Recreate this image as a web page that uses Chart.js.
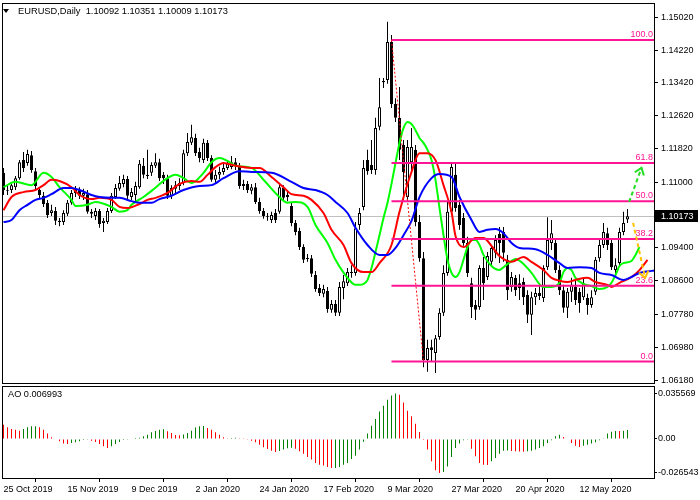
<!DOCTYPE html>
<html><head><meta charset="utf-8">
<script src="https://cdn.jsdelivr.net/npm/chart.js@4.4.1/dist/chart.umd.min.js"></script>
<style>
html,body{margin:0;padding:0;background:#fff;}
#wrap{position:relative;width:700px;height:500px;overflow:hidden;background:#fff;font-family:"Liberation Sans",Arial,sans-serif;}
#main{position:absolute;left:0;top:0;}
#ao{position:absolute;left:0;top:385px;}
#tri{position:absolute;left:3px;top:9px;width:0;height:0;border-left:3px solid transparent;border-right:3px solid transparent;border-top:4px solid #000;}
#hdr{position:absolute;left:18px;top:6px;font-size:9.3px;color:#000;white-space:pre;line-height:11px;}
#aolbl{position:absolute;left:8px;top:389px;font-size:9.2px;color:#000;white-space:pre;line-height:11px;}
</style></head><body>
<div id="wrap">
<canvas id="main" width="700" height="385"></canvas>
<canvas id="ao" width="700" height="115"></canvas>
<div id="tri"></div>
<div id="hdr"></div>
<div id="aolbl"></div>
</div>
<script>
const symbolTitle = 'EURUSD,Daily';
const dates = ['25 Oct 2019','15 Nov 2019','9 Dec 2019','2 Jan 2020','24 Jan 2020','17 Feb 2020','9 Mar 2020','27 Mar 2020','20 Apr 2020','12 May 2020'];
const dateBars = [0,16,32,48,64,80,96,112,128,144];
const priceTicks = [1.15020,1.14220,1.13420,1.12620,1.11820,1.11000,1.09400,1.08600,1.07780,1.06980,1.06180];
const aoTicks = [0.035569, 0, -0.026543];

const open = [1.1123,1.1081,1.1081,1.1088,1.1110,1.1154,1.1147,1.1166,1.1127,1.1081,
1.1067,1.1050,1.1025,1.1030,1.1006,1.1003,1.1023,1.1050,1.1074,1.1081,
1.1067,1.1071,1.1028,1.1018,1.1030,1.1001,1.1003,1.1030,1.1064,1.1084,
1.1096,1.1108,1.1064,1.1069,1.1088,1.1140,1.1115,1.1123,1.1140,1.1149,
1.1118,1.1110,1.1067,1.1084,1.1091,1.1098,1.1171,1.1196,1.1208,1.1174,
1.1154,1.1196,1.1159,1.1106,1.1118,1.1125,1.1135,1.1137,1.1149,1.1140,
1.1091,1.1096,1.1079,1.1088,1.1052,1.1030,1.1018,1.1008,1.1025,1.1028,
1.1086,1.1064,1.1042,1.1001,1.0981,1.0942,1.0913,1.0915,1.0874,1.0842,
1.0828,1.0835,1.0789,1.0803,1.0782,1.0842,1.0854,1.0879,1.0879,1.0996,
1.1040,1.1154,1.1142,1.1130,1.1235,1.1344,1.1349,1.1442,1.1291,1.1257,
1.1191,1.1064,1.1149,1.1179,1.1003,1.0915,1.0667,1.0698,1.0684,1.0723,
1.0782,1.0879,1.1028,1.1118,1.1045,1.1013,1.0952,1.0854,1.0801,1.0796,
1.0891,1.0869,1.0906,1.0928,1.0974,1.0979,1.0911,1.0845,1.0867,1.0854,
1.0857,1.0825,1.0777,1.0820,1.0830,1.0818,1.0893,1.0952,1.0952,1.0886,
1.0837,1.0794,1.0833,1.0845,1.0833,1.0820,1.0818,1.0801,1.0833,1.0915,
1.0947,1.0976,1.0952,1.0886,1.0903,1.0979,1.10092];
const high = [1.1135,1.1091,1.1096,1.1115,1.1154,1.1174,1.1179,1.1176,1.1135,1.1088,
1.1076,1.1057,1.1045,1.1040,1.1013,1.1032,1.1057,1.1081,1.1091,1.1088,
1.1084,1.1081,1.1035,1.1037,1.1035,1.1013,1.1037,1.1074,1.1096,1.1115,
1.1118,1.1115,1.1086,1.1101,1.1154,1.1159,1.1179,1.1149,1.1171,1.1157,
1.1125,1.1118,1.1093,1.1103,1.1110,1.1179,1.1220,1.1240,1.1218,1.1184,
1.1206,1.1203,1.1166,1.1130,1.1138,1.1149,1.1154,1.1164,1.1159,1.1147,
1.1106,1.1103,1.1096,1.1098,1.1062,1.1037,1.1025,1.1028,1.1035,1.1096,
1.1093,1.1081,1.1050,1.1008,1.0989,1.0949,1.0925,1.0923,1.0884,1.0852,
1.0850,1.0845,1.0813,1.0813,1.0857,1.0874,1.0891,1.0898,1.1003,1.1037,
1.1154,1.1179,1.1203,1.1257,1.1354,1.1354,1.1491,1.1459,1.1305,1.1332,
1.1203,1.1203,1.1232,1.1191,1.1020,1.0930,1.0716,1.0716,1.0728,1.0793,
1.0898,1.1052,1.1147,1.1147,1.1057,1.1025,1.0967,1.0867,1.0813,1.0898,
1.0918,1.0930,1.0947,1.0971,1.0991,1.0991,1.0923,1.0881,1.0874,1.0876,
1.0867,1.0837,1.0833,1.0842,1.0850,1.0898,1.1015,1.1008,1.0964,1.0898,
1.0850,1.0842,1.0867,1.0862,1.0842,1.0867,1.0828,1.0837,1.0918,1.0959,
1.1001,1.0989,1.0964,1.0915,1.0989,1.1028,1.10351];
const low = [1.1069,1.1069,1.1074,1.1081,1.1106,1.1125,1.1140,1.1123,1.1081,1.1059,
1.1040,1.1013,1.1018,1.0996,1.0993,1.0996,1.1018,1.1045,1.1064,1.1059,
1.1057,1.1023,1.1013,1.1008,1.0989,1.0979,1.0998,1.1025,1.1059,1.1079,
1.1088,1.1059,1.1057,1.1050,1.1084,1.1110,1.1108,1.1115,1.1135,1.1103,
1.1096,1.1059,1.1059,1.1074,1.1081,1.1093,1.1164,1.1191,1.1164,1.1149,
1.1147,1.1152,1.1101,1.1098,1.1108,1.1118,1.1130,1.1132,1.1130,1.1084,
1.1081,1.1074,1.1071,1.1047,1.1023,1.1011,1.1006,1.1001,1.1001,1.1023,
1.1054,1.1054,1.0993,1.0971,1.0935,1.0903,1.0906,1.0869,1.0833,1.0823,
1.0820,1.0782,1.0782,1.0774,1.0774,1.0815,1.0847,1.0867,1.0872,1.0984,
1.1032,1.1118,1.1120,1.1118,1.1227,1.1330,1.1340,1.1281,1.1247,1.1154,
1.1057,1.1057,1.1130,1.0993,1.0906,1.0649,1.0638,1.0662,1.0635,1.0716,
1.0774,1.0872,1.1020,1.1028,1.0984,1.0945,1.0869,1.0769,1.0764,1.0789,
1.0813,1.0862,1.0898,1.0915,1.0903,1.0906,1.0813,1.0833,1.0823,1.0813,
1.0801,1.0757,1.0728,1.0801,1.0813,1.0808,1.0886,1.0935,1.0879,1.0825,
1.0782,1.0769,1.0808,1.0801,1.0782,1.0813,1.0777,1.0794,1.0825,1.0906,
1.0940,1.0935,1.0886,1.0874,1.0896,1.0971,1.10009];
const close = [1.1081,1.1079,1.1093,1.1110,1.1149,1.1135,1.1169,1.1130,1.1091,1.1069,
1.1047,1.1020,1.1032,1.1006,1.1003,1.1025,1.1050,1.1074,1.1081,1.1067,
1.1074,1.1028,1.1023,1.1030,1.0998,1.1006,1.1030,1.1067,1.1086,1.1098,
1.1108,1.1067,1.1076,1.1091,1.1145,1.1118,1.1118,1.1142,1.1149,1.1110,
1.1110,1.1067,1.1086,1.1093,1.1098,1.1171,1.1198,1.1210,1.1171,1.1159,
1.1196,1.1159,1.1106,1.1118,1.1125,1.1135,1.1145,1.1149,1.1142,1.1091,
1.1096,1.1081,1.1088,1.1052,1.1030,1.1018,1.1016,1.1020,1.1008,1.1088,
1.1062,1.1069,1.1001,1.0979,1.0942,1.0911,1.0915,1.0877,1.0840,1.0830,
1.0840,1.0791,1.0803,1.0782,1.0845,1.0859,1.0881,1.0881,1.0988,1.1025,
1.1135,1.1127,1.1130,1.1232,1.1283,1.1347,1.1442,1.1291,1.1257,1.1179,
1.1125,1.1186,1.1186,1.1003,1.0915,1.0667,1.0696,1.0691,1.0720,1.0782,
1.0879,1.1028,1.1137,1.1037,1.0996,1.0952,1.0879,1.0796,1.0789,1.0891,
1.0854,1.0920,1.0940,1.0959,1.0952,1.0928,1.0837,1.0869,1.0837,1.0842,
1.0820,1.0777,1.0820,1.0830,1.0823,1.0891,1.0959,1.0976,1.0886,1.0837,
1.0794,1.0833,1.0850,1.0813,1.0806,1.0854,1.0801,1.0820,1.0911,1.0947,
1.0979,1.0947,1.0893,1.0898,1.0979,1.1001,1.10173];

const ao = [0.0112,0.0091,0.0078,0.0073,0.0065,0.0078,0.0091,0.0099,0.0100,0.0091,
0.0073,0.0042,0.0013,0.0003,-0.0018,-0.0036,-0.0039,-0.0031,-0.0026,-0.0018,
-0.0008,-0.0005,-0.0013,-0.0023,-0.0039,-0.0057,-0.0070,-0.0057,-0.0039,-0.0023,
-0.0008,-0.0005,0.0003,0.0008,0.0010,0.0021,0.0034,0.0052,0.0063,0.0073,
0.0076,0.0060,0.0047,0.0031,0.0029,0.0036,0.0047,0.0065,0.0089,0.0099,
0.0102,0.0086,0.0073,0.0052,0.0034,0.0013,0.0005,0.0008,0.0010,0.0005,
0.0001,-0.0005,-0.0013,-0.0026,-0.0044,-0.0065,-0.0078,-0.0091,-0.0102,-0.0094,
-0.0083,-0.0073,-0.0068,-0.0076,-0.0096,-0.0115,-0.0141,-0.0161,-0.0188,-0.0201,
-0.0208,-0.0219,-0.0227,-0.0226,-0.0219,-0.0201,-0.0188,-0.0156,-0.0130,-0.0083,
-0.0021,0.0042,0.0104,0.0156,0.0214,0.0260,0.0307,0.0340,0.035569,0.0346,
0.0286,0.0221,0.0177,0.0120,0.0055,-0.0001,-0.0083,-0.0174,-0.0245,-0.026543,
-0.0258,-0.0214,-0.0141,-0.0070,-0.0036,-0.0010,-0.0005,-0.0076,-0.0135,-0.0188,
-0.0201,-0.0203,-0.0174,-0.0148,-0.0115,-0.0091,-0.0089,-0.0093,-0.0096,-0.0098,
-0.0099,-0.0096,-0.0091,-0.0083,-0.0070,-0.0057,-0.0031,-0.0010,0.0021,0.0034,
0.0016,0.0000,-0.0031,-0.0052,-0.0063,-0.0052,-0.0044,-0.0036,-0.0026,-0.0010,
0.0001,0.0042,0.0057,0.0063,0.0062,0.0064,0.006993];

// Alligator lines: [bar, price]
const jaw = [[0,1.1003],[2,1.1008],[4,1.1032],[6,1.1045],[8,1.1057],[10,1.1062],[12,1.1071],[15,1.1086],[17,1.1086],[19,1.1081],[22,1.1069],[24,1.1064],[27,1.1062],[29,1.1062],[32,1.1054],[34,1.1050],[37,1.1050],[39,1.1059],[42,1.1067],[45,1.1081],[49,1.1091],[52,1.1093],[55,1.1110],[59,1.1127],[62,1.1125],[67,1.1123],[72,1.1101],[75,1.1086],[78,1.1081],[81,1.1069],[83,1.1052],[86,1.1025],[88,1.0989],[91,1.0947],[94,1.0923],[96,1.0923],[98,1.0940],[100,1.0971],[102,1.1006],[104,1.1064],[107,1.1110],[109,1.1120],[112,1.1113],[114,1.1064],[117,1.1008],[119,1.0979],[121,1.0984],[123,1.0986],[125,1.0976],[127,1.0952],[129,1.0940],[133,1.0937],[136,1.0923],[139,1.0903],[141,1.0891],[144,1.0893],[147,1.0891],[149,1.0879],[152,1.0874],[155,1.0862],[157,1.0869],[159,1.0879],[162,1.0884],[164,1.0886]];
const teeth = [[0,1.1032],[2,1.1064],[5,1.1076],[8,1.1081],[10,1.1093],[12,1.1106],[14,1.1103],[17,1.1088],[19,1.1069],[22,1.1059],[24,1.1062],[27,1.1057],[29,1.1040],[31,1.1037],[34,1.1047],[36,1.1057],[38,1.1062],[41,1.1074],[44,1.1096],[47,1.1103],[49,1.1101],[51,1.1118],[53,1.1137],[55,1.1147],[58,1.1140],[62,1.1135],[64,1.1135],[67,1.1113],[70,1.1088],[72,1.1071],[75,1.1067],[77,1.1057],[80,1.1025],[82,1.0984],[85,1.0947],[87,1.0903],[90,1.0881],[92,1.0881],[94,1.0903],[97,1.0947],[99,1.1028],[102,1.1125],[104,1.1171],[106,1.1171],[108,1.1154],[110,1.1093],[112,1.1028],[113,1.0969],[115,1.0942],[118,1.0964],[120,1.0964],[122,1.0945],[124,1.0920],[127,1.0906],[130,1.0918],[132,1.0906],[135,1.0886],[137,1.0867],[139,1.0860],[141,1.0857],[143,1.0862],[146,1.0867],[148,1.0857],[151,1.0850],[152,1.0845],[154,1.0855],[157,1.0869],[159,1.0886],[161,1.0911]];
const lips = [[0,1.1088],[3,1.1101],[7,1.1093],[10,1.1123],[12,1.1113],[14,1.1088],[17,1.1057],[18,1.1042],[21,1.1045],[23,1.1052],[27,1.1040],[29,1.1028],[31,1.1032],[32,1.1045],[35,1.1064],[37,1.1079],[41,1.1110],[43,1.1118],[45,1.1110],[47,1.1098],[50,1.1123],[52,1.1149],[54,1.1159],[56,1.1152],[58,1.1140],[62,1.1135],[65,1.1106],[69,1.1064],[71,1.1050],[73,1.1052],[76,1.1040],[78,1.0996],[81,1.0952],[83,1.0911],[86,1.0867],[88,1.0850],[89,1.0850],[91,1.0862],[92,1.0891],[93,1.0930],[94,1.0971],[95,1.1013],[96,1.1050],[97,1.1096],[98,1.1147],[99,1.1196],[100,1.1232],[101,1.1247],[102,1.1242],[103,1.1227],[104,1.1208],[105,1.1196],[106,1.1179],[107,1.1154],[108,1.1106],[109,1.1037],[110,1.0971],[111,1.0911],[112,1.0879],[113,1.0869],[114,1.0881],[115,1.0911],[116,1.0942],[117,1.0959],[118,1.0959],[119,1.0947],[120,1.0923],[122,1.0896],[124,1.0886],[125,1.0893],[127,1.0908],[128,1.0913],[130,1.0901],[132,1.0879],[135,1.0845],[137,1.0845],[139,1.0855],[140,1.0881],[141,1.0891],[142,1.0886],[143,1.0867],[145,1.0852],[147,1.0847],[149,1.0840],[151,1.0845],[152,1.0855],[153,1.0874],[154,1.0896],[155,1.0903],[157,1.0908],[158,1.0923],[159,1.0942]];

// Fibonacci retracement
const fibLabels = ['0.0','23.6','38.2','50.0','61.8','100.0'];
const fibPrices = [1.0663,1.0848,1.0962,1.1054,1.1147,1.1447];
const fibStartBar = 97;
const fibTrend = [[97,1.1447],[105,1.0663]];
// hand-drawn forecast arrows [bar, price] start -> tip
const upArrow = [[156.4,1.1052],[159.5,1.1135]];
const downArrow = [[157.4,1.1001],[160.4,1.0867]];

const FONT = 'Liberation Sans';
const last = close.length - 1;
const xMin = -0.375, xMax = 162.875;

document.getElementById('hdr').textContent = symbolTitle + '  ' + [open[last],high[last],low[last],close[last]].map(v=>v.toFixed(5)).join(' ');
document.getElementById('aolbl').textContent = 'AO ' + ao[last].toFixed(6);

function drawArrow(ctx, xs, ys, pts, color){
  const x0 = xs.getPixelForValue(pts[0][0]), y0 = ys.getPixelForValue(pts[0][1]);
  const x1 = xs.getPixelForValue(pts[1][0]), y1 = ys.getPixelForValue(pts[1][1]);
  ctx.save();
  ctx.strokeStyle = color; ctx.lineWidth = 2;
  ctx.setLineDash([4,3]);
  ctx.beginPath(); ctx.moveTo(x0,y0); ctx.lineTo(x1,y1); ctx.stroke();
  ctx.setLineDash([]);
  const ang = Math.atan2(y1-y0, x1-x0);
  const L = 8, spread = 0.65;
  ctx.beginPath();
  ctx.moveTo(x1 - L*Math.cos(ang-spread), y1 - L*Math.sin(ang-spread));
  ctx.lineTo(x1, y1);
  ctx.lineTo(x1 - L*Math.cos(ang+spread), y1 - L*Math.sin(ang+spread));
  ctx.stroke();
  ctx.restore();
}

const mainDecor = {
  id: 'mainDecor',
  beforeDatasetsDraw(chart){
    const {ctx, chartArea:a, scales:{y}} = chart;
    const py = Math.round(y.getPixelForValue(close[last])) + 0.5;
    ctx.save(); ctx.strokeStyle = '#C0C0C0'; ctx.lineWidth = 1;
    ctx.beginPath(); ctx.moveTo(a.left, py); ctx.lineTo(a.right, py); ctx.stroke(); ctx.restore();
  },
  afterDatasetsDraw(chart){
    const {ctx, chartArea:a, scales:{x, y}} = chart;
    ctx.save();
    ctx.beginPath(); ctx.rect(a.left, a.top, a.right-a.left, a.bottom-a.top); ctx.clip();
    ctx.fillStyle = '#FF1493'; ctx.font = '9px "' + FONT + '"';
    ctx.textAlign = 'right'; ctx.textBaseline = 'alphabetic';
    fibPrices.forEach((p, k) => {
      ctx.fillText(fibLabels[k], a.right - 2, y.getPixelForValue(p) - 3);
    });
    drawArrow(ctx, x, y, upArrow, '#22DD22');
    drawArrow(ctx, x, y, downArrow, '#FFC000');
    ctx.restore();
  },
  afterDraw(chart){
    const {ctx, chartArea:a, scales:{y}} = chart;
    ctx.save();
    ctx.strokeStyle = '#000'; ctx.lineWidth = 1;
    ctx.strokeRect(a.left+0.5, a.top+0.5, a.right-a.left-1, a.bottom-a.top-1);
    const py = y.getPixelForValue(close[last]);
    ctx.fillStyle = '#000';
    ctx.fillRect(a.right, Math.round(py)-6, 43, 12);
    ctx.fillStyle = '#fff'; ctx.font = '9px "' + FONT + '"';
    ctx.textAlign = 'left'; ctx.textBaseline = 'middle';
    ctx.fillText(close[last].toFixed(5), a.right + 6, py + 0.5);
    ctx.restore();
  }
};

const frameOnly = {
  id: 'frameOnly',
  afterDraw(chart){
    const {ctx, chartArea:a} = chart;
    ctx.save(); ctx.strokeStyle = '#000'; ctx.lineWidth = 1;
    ctx.strokeRect(a.left+0.5, a.top+0.5, a.right-a.left-1, a.bottom-a.top-1);
    ctx.restore();
  }
};

const lineDs = (pts, color, order) => ({
  type: 'line', data: pts.map(([x,y]) => ({x, y})), borderColor: color, borderWidth: 2,
  pointRadius: 0, cubicInterpolationMode: 'monotone', order, clip: 0, fill: false
});

const datasets = [];
fibPrices.forEach(p => datasets.push({
  type: 'line', data: [{x: fibStartBar, y: p}, {x: xMax, y: p}], borderColor: '#FF1493',
  borderWidth: 2, pointRadius: 0, order: 0, clip: 0, fill: false
}));
datasets.push({
  type: 'line', data: fibTrend.map(([x,y]) => ({x, y})), borderColor: '#FF0000', borderWidth: 1,
  borderDash: [2,2], pointRadius: 0, order: 0, clip: 0, fill: false
});
datasets.push(lineDs(jaw, '#0000FF', 1));
datasets.push(lineDs(teeth, '#FF0000', 1));
datasets.push(lineDs(lips, '#00FF00', 1));
datasets.push({
  type: 'bar', data: open.map((o,i) => ({x: i, y: [o, close[i]]})),
  backgroundColor: open.map((o,i) => close[i] >= o ? '#FFFFFF' : '#000000'),
  borderColor: '#000000', borderWidth: 1, borderSkipped: false, barThickness: 3,
  grouped: false, order: 2, minBarLength: 1, inflateAmount: 0
});
datasets.push({
  type: 'bar', data: open.map((o,i) => ({x: i, y: [low[i], high[i]]})),
  backgroundColor: '#000000', borderWidth: 0, barThickness: 1,
  grouped: false, order: 3, inflateAmount: 0
});

new Chart(document.getElementById('main'), {
  type: 'bar',
  data: { datasets },
  options: {
    responsive: false, animation: false, devicePixelRatio: 1,
    layout: { padding: { left: 2, top: 3, right: 0, bottom: 1 } },
    plugins: { legend: { display: false }, tooltip: { enabled: false } },
    scales: {
      x: { type: 'linear', min: xMin, max: xMax, display: false, offset: false },
      y: {
        type: 'linear', position: 'right', min: 1.06083, max: 1.15369,
        afterBuildTicks: s => { s.ticks = priceTicks.map(v => ({value: v})); },
        afterFit: s => { s.width = 45; s.paddingTop = 0; s.paddingBottom = 0; },
        grid: { drawOnChartArea: false, drawTicks: true, tickLength: 3, tickColor: '#000', color: '#000' },
        border: { display: false },
        ticks: { color: '#000', padding: 3, font: { family: FONT, size: 9 }, callback: v => Number(v).toFixed(5) }
      }
    }
  },
  plugins: [mainDecor]
});

const aoColors = [];
ao.forEach((v, i) => {
  if (i === 0) aoColors.push('#FF0000');
  else if (v > ao[i-1]) aoColors.push('#008000');
  else if (v < ao[i-1]) aoColors.push('#FF0000');
  else aoColors.push(aoColors[i-1]);
});

new Chart(document.getElementById('ao'), {
  type: 'bar',
  data: { datasets: [{
    data: ao.map((v,i) => ({x: i, y: v})), backgroundColor: aoColors,
    barThickness: 1, borderWidth: 0, inflateAmount: 0, grouped: false
  }]},
  options: {
    responsive: false, animation: false, devicePixelRatio: 1,
    layout: { padding: { left: 2, top: 1, right: 0, bottom: 0 } },
    plugins: { legend: { display: false }, tooltip: { enabled: false } },
    scales: {
      x: {
        type: 'linear', min: xMin, max: xMax, offset: false, position: 'bottom',
        afterBuildTicks: s => { s.ticks = dateBars.map(v => ({value: v})); },
        afterFit: s => { s.height = 21; s.paddingLeft = 0; s.paddingRight = 0; },
        grid: { drawOnChartArea: false, drawTicks: true, tickLength: 3, tickColor: '#000', color: '#000' },
        border: { display: false },
        ticks: { align: 'start', autoSkip: false, maxRotation: 0, minRotation: 0, padding: 2,
          color: '#000', font: { family: FONT, size: 9 }, callback: (v, idx) => dates[idx] }
      },
      y: {
        type: 'linear', position: 'right', min: -0.03125, max: 0.0414,
        afterBuildTicks: s => { s.ticks = aoTicks.map(v => ({value: v})); },
        afterFit: s => { s.width = 45; s.paddingTop = 0; s.paddingBottom = 0; },
        grid: { drawOnChartArea: false, drawTicks: true, tickLength: 2, tickColor: '#000', color: '#000' },
        border: { display: false },
        ticks: { color: '#000', padding: 1, font: { family: FONT, size: 9 },
          callback: v => v === 0 ? '0.00' : Number(v).toFixed(6) }
      }
    }
  },
  plugins: [frameOnly]
});
</script>
</body></html>
